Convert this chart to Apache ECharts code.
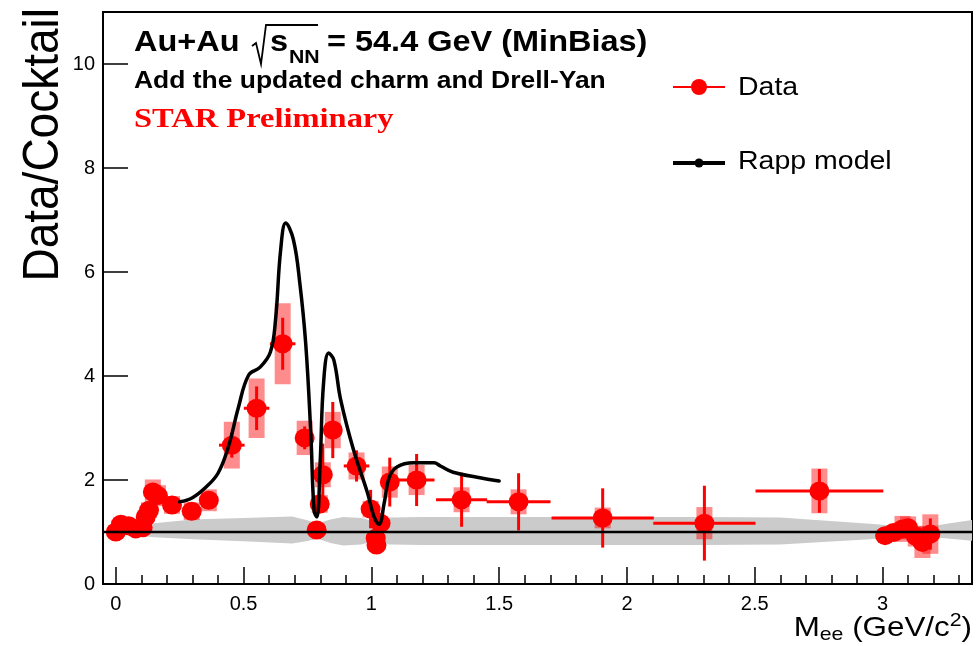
<!DOCTYPE html>
<html>
<head>
<meta charset="utf-8">
<title>Data/Cocktail</title>
<script src="https://cdn.jsdelivr.net/npm/echarts@6/dist/echarts.min.js"></script>
<style>
  html, body { margin: 0; padding: 0; background: #fff; }
  #chart { width: 976px; height: 646px; }
</style>
</head>
<body>
<div id="chart"></div>
<script>
// data points (ratio to cocktail)
const dataX = [0.0, 0.02, 0.05, 0.078, 0.105, 0.117, 0.13, 0.145, 0.165, 0.22, 0.297, 0.364,
  0.454, 0.551, 0.653, 0.739, 0.786, 0.798, 0.81, 0.849, 0.942, 0.997, 1.017, 1.02, 1.036, 1.072,
  1.177, 1.353, 1.576, 1.905, 2.303, 2.753,
  3.01, 3.043, 3.078, 3.10, 3.13, 3.156, 3.187];
const dataY = [1.0, 1.15, 1.12, 1.06, 1.08, 1.29, 1.42, 1.77, 1.70, 1.52, 1.40, 1.61,
  2.67, 3.38, 4.62, 2.81, 1.04, 1.54, 2.10, 2.96, 2.27, 1.44, 0.88, 0.75, 1.17, 1.96,
  2.00, 1.62, 1.58, 1.27, 1.17, 1.79,
  0.93, 0.99, 1.06, 1.08, 0.92, 0.80, 0.96];
const dataXErr = [0, 0, 0, 0, 0, 0, 0, 0, 0, 0, 0, 0,
  0.05, 0.05, 0.05, 0.035, 0, 0, 0, 0, 0.05, 0, 0, 0, 0, 0,
  0.07, 0.1, 0.125, 0.2, 0.2, 0.25,
  0, 0, 0, 0, 0, 0, 0];
const dataStat = [0.03, 0.03, 0.03, 0.03, 0.03, 0.04, 0.05, 0.07, 0.07, 0.06, 0.07, 0.08,
  0.24, 0.42, 0.5, 0.22, 0.02, 0.18, 0.6, 0.54, 0.3, 0.37, 0.1, 0.1, 0.2, 0.47,
  0.5, 0.52, 0.55, 0.57, 0.72, 0.42,
  0.1, 0.08, 0.08, 0.08, 0.1, 0.12, 0.3];
const dataSys = [0.06, 0.08, 0.08, 0.07, 0.08, 0.12, 0.15, 0.24, 0.2, 0.17, 0.17, 0.21,
  0.45, 0.57, 0.78, 0.33, 0.05, 0.17, 0.24, 0.35, 0.26, 0.16, 0.08, 0.08, 0.1, 0.3,
  0.29, 0.24, 0.24, 0.2, 0.31, 0.43,
  0.1, 0.12, 0.25, 0.22, 0.2, 0.3, 0.38];

// Rapp model / cocktail
const modelX = [0.25, 0.30, 0.35, 0.40, 0.44, 0.48, 0.52, 0.565, 0.605, 0.625, 0.645, 0.665, 0.695,
  0.72, 0.743, 0.763, 0.776, 0.787, 0.80, 0.813, 0.833, 0.853, 0.88, 0.93, 0.985, 1.01, 1.03,
  1.05, 1.07, 1.10, 1.165, 1.245, 1.27, 1.32, 1.43, 1.50];
const modelY = [1.58, 1.66, 1.85, 2.13, 2.63, 3.40, 4.02, 4.17, 4.46, 5.08, 6.42, 6.94, 6.62,
  5.79, 4.63, 2.90, 1.40, 1.29, 2.38, 3.87, 4.44, 4.31, 3.54, 2.58, 1.75, 1.30, 1.15,
  1.55, 2.05, 2.25, 2.33, 2.33, 2.27, 2.15, 2.04, 1.98];

// cocktail uncertainty band
const bandX = [0.1, 0.15, 0.3, 0.5, 0.69, 0.745, 0.79, 0.84, 0.89, 0.96, 1.02, 1.07, 1.2, 1.7, 2.3, 2.6, 2.95, 3.1, 3.2, 3.35];
const bandHi = [1.12, 1.17, 1.24, 1.27, 1.3, 1.23, 1.17, 1.24, 1.29, 1.27, 1.19, 1.28, 1.29, 1.29, 1.29, 1.28, 1.16, 1.1, 1.12, 1.23];
const bandLo = [0.93, 0.9, 0.86, 0.82, 0.78, 0.82, 0.87, 0.79, 0.74, 0.76, 0.83, 0.76, 0.75, 0.75, 0.75, 0.76, 0.86, 0.93, 0.9, 0.83];
const cocktailX = [-0.05, 3.35];
const cocktailY = [1, 1];

// ticks
const xTicks = [0, 0.5, 1, 1.5, 2, 2.5, 3];
const xMinorTicks = [0.1, 0.2, 0.3, 0.4, 0.6, 0.7, 0.8, 0.9, 1.1, 1.2, 1.3, 1.4, 1.6, 1.7, 1.8, 1.9,
  2.1, 2.2, 2.3, 2.4, 2.6, 2.7, 2.8, 2.9, 3.1, 3.2, 3.3];
const yTicks = [0, 2, 4, 6, 8, 10];

const SANS = '"Liberation Sans", Arial, Helvetica, sans-serif';
const SERIF = '"Liberation Serif", "Times New Roman", serif';
const RED = '#ff0000';

const chart = echarts.init(document.getElementById('chart'));

const points = dataX.map((x, i) => [x, dataY[i]]);
const statPts = dataX.map((x, i) => [x, dataY[i], dataXErr[i], dataStat[i]]);
const sysPts = dataX.map((x, i) => [x, dataY[i], dataSys[i]]);

function renderBand(params, api) {
  const top = bandX.map((x, i) => api.coord([x, bandHi[i]]));
  const bot = bandX.map((x, i) => api.coord([x, bandLo[i]])).reverse();
  return {
    type: 'polygon',
    shape: { points: top.concat(bot) },
    style: { fill: '#cbcbcb' }
  };
}

function renderSys(params, api) {
  const x = api.value(0), y = api.value(1), e = api.value(2);
  const t = api.coord([x, y + e]);
  const b = api.coord([x, y - e]);
  return {
    type: 'rect',
    shape: { x: t[0] - 8, y: t[1], width: 16, height: b[1] - t[1] },
    style: { fill: 'rgba(255,0,0,0.45)' }
  };
}

function renderStat(params, api) {
  const x = api.value(0), y = api.value(1), xe = api.value(2), ye = api.value(3);
  const l = api.coord([x - xe, y]), r = api.coord([x + xe, y]);
  const t = api.coord([x, y + ye]), b = api.coord([x, y - ye]);
  const st = { stroke: RED, lineWidth: 3 };
  return {
    type: 'group',
    children: [
      { type: 'line', shape: { x1: l[0], y1: l[1], x2: r[0], y2: r[1] }, style: st },
      { type: 'line', shape: { x1: t[0], y1: t[1], x2: b[0], y2: b[1] }, style: st }
    ]
  };
}

const option = {
  animation: false,
  backgroundColor: '#fff',
  grid: {
    left: 103, right: 4, top: 12, bottom: 62,
    show: true, borderColor: '#000', borderWidth: 2, backgroundColor: 'transparent'
  },
  xAxis: [{
    type: 'value', min: -0.05, max: 3.35, position: 'bottom',
    axisLine: { show: true, onZero: false, lineStyle: { color: '#000', width: 2 } },
    axisTick: { show: true, inside: true, length: 17, customValues: xTicks, lineStyle: { color: '#000', width: 1.5 } },
    axisLabel: { customValues: xTicks, color: '#000', fontFamily: SANS, fontSize: 20, margin: 10 },
    splitLine: { show: false }
  }, {
    type: 'value', min: -0.05, max: 3.35, position: 'bottom',
    axisLine: { show: false, onZero: false },
    axisTick: { show: true, inside: true, length: 9, customValues: xMinorTicks, lineStyle: { color: '#000', width: 1.5 } },
    axisLabel: { show: false },
    splitLine: { show: false }
  }],
  yAxis: {
    type: 'value', min: 0, max: 11,
    axisLine: { show: true, onZero: false, lineStyle: { color: '#000', width: 2 } },
    axisTick: { show: true, inside: true, length: 25, customValues: yTicks, lineStyle: { color: '#000', width: 1.5 } },
    axisLabel: { customValues: yTicks, color: '#000', fontFamily: SANS, fontSize: 20, margin: 8 },
    splitLine: { show: false }
  },
  series: [
    {
      type: 'custom', name: 'band', renderItem: renderBand, data: [[1, 1]],
      encode: { x: 0, y: 1 }, clip: true, silent: true
    },
    {
      type: 'line', name: 'cocktail', data: cocktailX.map((x, i) => [x, cocktailY[i]]),
      showSymbol: false, symbol: 'none', lineStyle: { color: '#000', width: 2.5 }
    },
    {
      type: 'line', name: 'Rapp model', data: modelX.map((x, i) => [x, modelY[i]]),
      symbol: 'none', smooth: 0.4,
      lineStyle: { color: '#000', width: 3.5, join: 'round', cap: 'round' }
    },
    {
      type: 'custom', name: 'sys', renderItem: renderSys, data: sysPts,
      encode: { x: 0, y: 1 }, silent: true
    },
    {
      type: 'custom', name: 'stat', renderItem: renderStat, data: statPts,
      encode: { x: 0, y: 1 }, silent: true
    },
    {
      type: 'scatter', name: 'Data', data: points, symbol: 'circle', symbolSize: [20, 19],
      itemStyle: { color: RED, opacity: 1 }
    }
  ],
  graphic: [
    // header
    { type: 'text', x: 134, y: 43, scaleX: 1.12,
      style: { text: 'Au+Au', font: 'bold 29px ' + SANS, fill: '#000', textAlign: 'left', textVerticalAlign: 'middle' } },
    { type: 'polyline', shape: { points: [[252, 46], [256, 43], [261, 64], [266, 25], [318, 25]] },
      style: { stroke: '#000', lineWidth: 1.8, fill: null } },
    { type: 'text', x: 270, y: 43, scaleX: 1.12,
      style: { text: 's', font: 'bold 29px ' + SANS, fill: '#000', textAlign: 'left', textVerticalAlign: 'middle' } },
    { type: 'text', x: 289, y: 58, scaleX: 1.12,
      style: { text: 'NN', font: 'bold 19px ' + SANS, fill: '#000', textAlign: 'left', textVerticalAlign: 'middle' } },
    { type: 'text', x: 327, y: 43, scaleX: 1.12,
      style: { text: '= 54.4 GeV (MinBias)', font: 'bold 29px ' + SANS, fill: '#000', textAlign: 'left', textVerticalAlign: 'middle' } },
    { type: 'text', x: 134, y: 82, scaleX: 1.15,
      style: { text: 'Add the updated charm and Drell-Yan', font: 'bold 23px ' + SANS, fill: '#000', textAlign: 'left', textVerticalAlign: 'middle' } },
    { type: 'text', x: 134, y: 120, scaleX: 1.16,
      style: { text: 'STAR Preliminary', font: 'bold 28px ' + SERIF, fill: RED, textAlign: 'left', textVerticalAlign: 'middle' } },
    // legend
    { type: 'line', shape: { x1: 673, y1: 87, x2: 725, y2: 87 }, style: { stroke: RED, lineWidth: 2 } },
    { type: 'circle', shape: { cx: 699, cy: 87, r: 8 }, style: { fill: RED } },
    { type: 'text', x: 738, y: 88, scaleX: 1.14,
      style: { text: 'Data', font: '25px ' + SANS, fill: '#000', textAlign: 'left', textVerticalAlign: 'middle' } },
    { type: 'line', shape: { x1: 673, y1: 163, x2: 725, y2: 163 }, style: { stroke: '#000', lineWidth: 4 } },
    { type: 'circle', shape: { cx: 699, cy: 163, r: 4.5 }, style: { fill: '#000' } },
    { type: 'text', x: 738, y: 162, scaleX: 1.14,
      style: { text: 'Rapp model', font: '25px ' + SANS, fill: '#000', textAlign: 'left', textVerticalAlign: 'middle' } },
    // axis titles
    { type: 'text', x: 44, y: 8, rotation: Math.PI / 2, scaleY: 1.08,
      style: { text: 'Data/Cocktail', font: '46px ' + SANS, fill: '#000', textAlign: 'right', textVerticalAlign: 'middle' } },
    { type: 'text', x: 972, y: 628, scaleX: 1.12,
      style: {
        text: '{n|M}{sub|ee}{n| (GeV/c}{sup|2}{n|)}',
        textAlign: 'right', textVerticalAlign: 'middle', fill: '#000',
        rich: {
          n: { fontFamily: SANS, fontSize: 28, fill: '#000' },
          sub: { fontFamily: SANS, fontSize: 19, fill: '#000', padding: [14, 0, 0, 0] },
          sup: { fontFamily: SANS, fontSize: 19, fill: '#000', padding: [0, 0, 14, 0] }
        }
      } }
  ]
};

chart.setOption(option);
</script>
</body>
</html>
